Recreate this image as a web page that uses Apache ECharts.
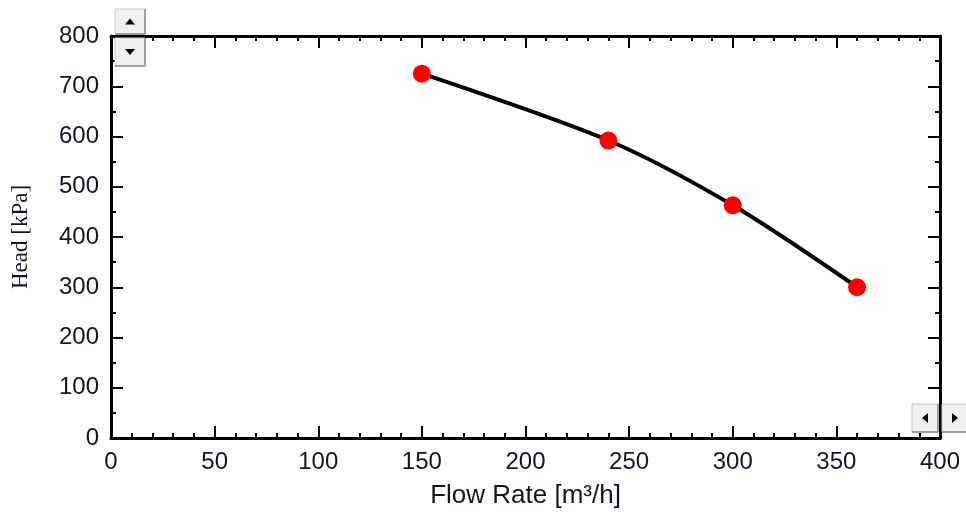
<!DOCTYPE html>
<html><head><meta charset="utf-8">
<script src="https://cdn.jsdelivr.net/npm/echarts@6/dist/echarts.min.js"></script>
<style>html,body{margin:0;padding:0;background:#fff}#c{width:966px;height:518px}</style>
</head><body><div id="c"></div>
<script>
const flowRate = [150, 240, 300, 360];
const head = [725, 592, 463, 300];
const xTitle = 'Flow Rate [m³/h]';
const yTitle = 'Head [kPa]';

const chart = echarts.init(document.getElementById('c'));
const labelColor = '#141428';
const axisLine = {show: true, onZero: false, lineStyle: {color: '#000', width: 3}};
const axisTick = {show: true, inside: true, length: 12, lineStyle: {color: '#000', width: 2}};
const minorStyle = {show: true, length: 5, lineStyle: {color: '#000', width: 2}};
function btn(x, y, w, h, dir) {
  const cx = x + w / 2, cy = y + h / 2, s = 5;
  let pts;
  if (dir === 'up') pts = [[cx - s, cy + 3], [cx + s, cy + 3], [cx, cy - 3]];
  else if (dir === 'down') pts = [[cx - s, cy - 3], [cx + s, cy - 3], [cx, cy + 3]];
  else if (dir === 'left') pts = [[cx + 3, cy - s], [cx + 3, cy + s], [cx - 3, cy]];
  else pts = [[cx - 3, cy - s], [cx - 3, cy + s], [cx + 3, cy]];
  return [
    {type: 'rect', shape: {x: x, y: y, width: w, height: h}, style: {fill: '#f0f0f0', stroke: '#c8c8c8', lineWidth: 1}, z: 100},
    {type: 'line', shape: {x1: x + w, y1: y, x2: x + w, y2: y + h}, style: {stroke: '#a0a0a0', lineWidth: 2}, z: 101},
    {type: 'line', shape: {x1: x, y1: y + h, x2: x + w, y2: y + h}, style: {stroke: '#a0a0a0', lineWidth: 2}, z: 101},
    {type: 'polygon', shape: {points: pts}, style: {fill: '#000'}, z: 102}
  ];
}
chart.setOption({
  backgroundColor: '#fff',
  animation: false,
  grid: {left: 111, right: 26, top: 36, bottom: 80},
  xAxis: [
    {type: 'value', min: 0, max: 400, interval: 50, position: 'bottom',
      axisLine: axisLine, axisTick: axisTick, splitLine: {show: false},
      minorTick: Object.assign({splitNumber: 5}, minorStyle),
      axisLabel: {color: labelColor, fontSize: 24, fontFamily: 'Liberation Sans', margin: 12},
      name: xTitle, nameLocation: 'middle', nameGap: 45,
      nameTextStyle: {color: labelColor, fontSize: 26, fontFamily: 'Liberation Sans'}},
    {type: 'value', min: 0, max: 400, interval: 50, position: 'top',
      axisLine: axisLine, axisTick: axisTick, splitLine: {show: false},
      minorTick: Object.assign({splitNumber: 5}, minorStyle),
      axisLabel: {show: false}}
  ],
  yAxis: [
    {type: 'value', min: 0, max: 800, interval: 100, position: 'left',
      axisLine: axisLine, axisTick: axisTick, splitLine: {show: false},
      minorTick: Object.assign({splitNumber: 2}, minorStyle),
      axisLabel: {color: labelColor, fontSize: 24, fontFamily: 'Liberation Sans', margin: 12},
      name: yTitle, nameLocation: 'middle', nameGap: 79, nameRotate: 90,
      nameTextStyle: {color: labelColor, fontSize: 23, fontFamily: 'Liberation Serif'}},
    {type: 'value', min: 0, max: 800, interval: 100, position: 'right',
      axisLine: axisLine, axisTick: axisTick, splitLine: {show: false},
      minorTick: Object.assign({splitNumber: 2}, minorStyle),
      axisLabel: {show: false}}
  ],
  series: [
    {type: 'line', data: flowRate.map((x, i) => [x, head[i]]), smooth: 0.3,
     showSymbol: false, lineStyle: {color: '#000', width: 4}, z: 2},
    {type: 'scatter', data: flowRate.map((x, i) => [x, head[i]]), symbol: 'circle', symbolSize: 18,
     itemStyle: {color: '#ff0000', opacity: 1}, z: 3}
  ],
  graphic: [].concat(
    btn(115, 9, 30, 25, 'up'),
    btn(115, 38, 30, 28, 'down'),
    btn(912, 404, 26, 28, 'left'),
    btn(942, 404, 26, 28, 'right')
  )
});
</script></body></html>
